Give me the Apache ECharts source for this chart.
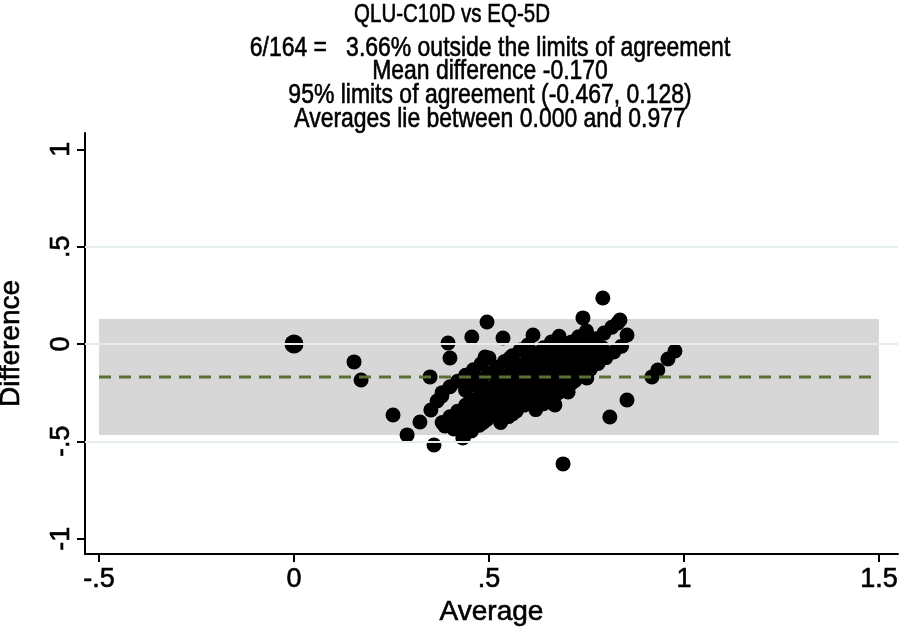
<!DOCTYPE html>
<html>
<head>
<meta charset="utf-8">
<script src="https://cdn.jsdelivr.net/npm/echarts@6/dist/echarts.min.js"></script>
<style>html,body{margin:0;padding:0;background:#fff;}#chart{width:904px;height:628px;}</style>
</head>
<body>
<div id="chart"></div>
<script>
// Bland-Altman data: [average, difference]
const observations = [
  [0.000,0.000],
  [0.154,-0.092],[0.172,-0.185],[0.254,-0.365],[0.290,-0.467],[0.323,-0.401],[0.359,-0.519],[0.351,-0.339],[0.349,-0.169],
  [0.367,-0.293],[0.379,-0.267],[0.387,-0.421],[0.395,0.005],[0.400,-0.072],[0.418,-0.354],[0.433,-0.483],[0.444,-0.313],
  [0.444,-0.169],[0.456,0.036],[0.495,0.113],[0.490,-0.067],[0.536,0.031],[0.554,-0.072],[0.613,0.046],[0.600,-0.005],
  [0.682,0.010],[0.713,0.010],[0.741,0.134],[0.792,0.236],[0.836,0.123],[0.854,0.046],[0.751,-0.175],[0.854,-0.288],
  [0.810,-0.375],[0.690,-0.616],[0.703,-0.247],[0.669,-0.313],[0.918,-0.169],[0.933,-0.134],[0.959,-0.077],[0.977,-0.036],
  [0.435,-0.477],[0.455,-0.447],[0.475,-0.417],[0.495,-0.388],[0.515,-0.358],[0.535,-0.329],[0.555,-0.299],[0.575,-0.269],
  [0.595,-0.240],[0.615,-0.210],[0.635,-0.181],[0.655,-0.151],[0.675,-0.121],[0.695,-0.092],[0.715,-0.062],[0.735,-0.033],
  [0.755,-0.003],[0.775,0.027],[0.795,0.056],[0.815,0.086],[0.830,0.108],
  [0.41,-0.437],[0.43,-0.407],[0.45,-0.377],[0.47,-0.348],[0.49,-0.318],[0.51,-0.289],[0.53,-0.259],[0.55,-0.229],
  [0.57,-0.200],[0.59,-0.170],[0.61,-0.141],[0.63,-0.111],[0.65,-0.081],[0.67,-0.052],[0.69,-0.022],[0.71,0.007],
  [0.73,0.037],[0.75,0.067],
  [0.38,-0.404],[0.40,-0.374],[0.42,-0.345],[0.44,-0.315],[0.46,-0.286],[0.48,-0.256],[0.50,-0.226],[0.52,-0.197],
  [0.54,-0.167],[0.56,-0.138],[0.58,-0.108],[0.60,-0.078],[0.62,-0.049],[0.64,-0.019],[0.66,0.010],[0.68,0.040],
  [0.44,-0.238],[0.46,-0.209],[0.48,-0.179],[0.50,-0.149],[0.52,-0.120],[0.54,-0.090],[0.56,-0.061],[0.58,-0.031],
  [0.53,-0.403],[0.55,-0.373],[0.57,-0.344],[0.59,-0.314],[0.61,-0.285],[0.63,-0.255],[0.65,-0.225],[0.67,-0.196],
  [0.69,-0.166],[0.71,-0.137],[0.73,-0.107],[0.75,-0.077],[0.77,-0.048],[0.79,-0.018],
  [0.62,-0.337],[0.64,-0.307],[0.66,-0.278],[0.68,-0.248],[0.70,-0.218],[0.72,-0.189],[0.74,-0.159],[0.76,-0.130],
  [0.78,-0.100],[0.80,-0.070],[0.82,-0.041],[0.84,-0.011],
  [0.38,-0.250],[0.40,-0.220],[0.42,-0.191],[0.44,-0.161],[0.46,-0.132],[0.48,-0.102],[0.50,-0.072],
  [0.485,-0.403],[0.525,-0.344],[0.565,-0.284],[0.605,-0.225],[0.645,-0.166],[0.685,-0.107],[0.725,-0.048],[0.765,0.012],
  [0.44,-0.392],[0.48,-0.333],[0.52,-0.274],[0.56,-0.215],[0.60,-0.156],[0.64,-0.096],[0.68,-0.037],
  [0.56,-0.359],[0.60,-0.300],[0.64,-0.240],[0.68,-0.181],[0.72,-0.122],
  [0.45,-0.301],[0.49,-0.241],[0.53,-0.182],[0.57,-0.123],[0.61,-0.064],
  [0.67,-0.263],[0.71,-0.204]
];
const meanDifference = -0.170;
const limitsOfAgreement = [-0.467, 0.128];
const bandRange = [-0.5, 1.5];
const xTicks = [-0.5, 0, 0.5, 1, 1.5];
const yTicks = [-1, -0.5, 0, 0.5, 1];
const gridValues = [-0.5, 0, 0.5];
const titleText = 'QLU-C10D vs EQ-5D';
const subtitleLines = [
  '6/164 =   3.66% outside the limits of agreement',
  'Mean difference -0.170',
  '95% limits of agreement (-0.467, 0.128)',
  'Averages lie between 0.000 and 0.977'
];

const FONT = '"Liberation Sans", Arial, Helvetica, sans-serif';
const NARROW_SCALE = 0.82; // emulate the condensed Helvetica of the original
function stataLabel(v) {
  if (v === 0) return '0';
  let s = String(v);
  s = s.replace(/^0\./, '.').replace(/^-0\./, '-.');
  return s;
}
function headText(str, x, y, size) {
  return {
    type: 'text', x: x, y: y, scaleX: NARROW_SCALE, silent: true, z: 10,
    style: {
      text: str, fill: '#000', fontFamily: FONT, fontSize: size,
      stroke: '#000', lineWidth: 0.6,
      align: 'center', verticalAlign: 'middle', textAlign: 'center', textVerticalAlign: 'middle'
    }
  };
}
const headerGraphics = [headText(titleText, 452, 15, 25)].concat(
  subtitleLines.map((t, i) => headText(t, 490, 48 + i * 23.7, 28))
);
const thick = {textBorderColor: '#000', textBorderWidth: 0.6};

const chart = echarts.init(document.getElementById('chart'), null, {renderer: 'canvas'});
chart.setOption({
  animation: false,
  backgroundColor: '#ffffff',
  graphic: headerGraphics,
  grid: {left: 85, right: 6, top: 133, bottom: 74, containLabel: false, outerBoundsMode: 'none'},
  xAxis: {
    type: 'value', min: -0.536, max: 1.549,
    name: 'Average', nameLocation: 'middle', nameGap: 42,
    nameTextStyle: Object.assign({fontFamily: FONT, fontSize: 28, color: '#000'}, thick),
    axisLine: {onZero: false, lineStyle: {color: '#000', width: 2}},
    axisTick: {show: true, length: 8, lineStyle: {color: '#000', width: 2}, customValues: xTicks},
    axisLabel: Object.assign({fontFamily: FONT, fontSize: 27, color: '#000', margin: 12, customValues: xTicks, formatter: stataLabel}, thick),
    splitLine: {show: false}
  },
  yAxis: {
    type: 'value', min: -1.079, max: 1.084,
    name: 'Difference', nameLocation: 'middle', nameGap: 60,
    nameTextStyle: Object.assign({fontFamily: FONT, fontSize: 28, color: '#000'}, thick),
    axisLine: {onZero: false, lineStyle: {color: '#000', width: 2}},
    axisTick: {show: true, length: 8, lineStyle: {color: '#000', width: 2}, customValues: yTicks},
    axisLabel: Object.assign({fontFamily: FONT, fontSize: 27, color: '#000', margin: 10, rotate: 90, customValues: yTicks, formatter: stataLabel}, thick),
    splitLine: {show: false}
  },
  series: [
    {
      type: 'scatter', data: [], z: 1, silent: true,
      markLine: {
        silent: true, symbol: 'none', label: {show: false}, animation: false,
        lineStyle: {color: '#e4ecec', width: 2, type: 'solid'},
        data: gridValues.map(v => ({yAxis: v}))
      }
    },
    {
      type: 'scatter', data: [], z: 2, silent: true,
      markArea: {
        silent: true, itemStyle: {color: '#d7d7d7', opacity: 1},
        data: [[{xAxis: bandRange[0], yAxis: limitsOfAgreement[0]}, {xAxis: bandRange[1], yAxis: limitsOfAgreement[1]}]]
      }
    },
    {
      type: 'scatter', z: 3, silent: true,
      data: observations,
      symbol: 'circle',
      symbolSize: function (val) { return (val[0] === 0 && val[1] === 0) ? 19 : 15; },
      itemStyle: {color: '#000', opacity: 1}
    },
    {
      type: 'line', z: 4, silent: true, symbol: 'none',
      data: [[bandRange[0], meanDifference], [bandRange[1], meanDifference]],
      lineStyle: {color: '#5b7036', width: 3, type: [12, 8]}
    }
  ]
});
</script>
</body>
</html>
